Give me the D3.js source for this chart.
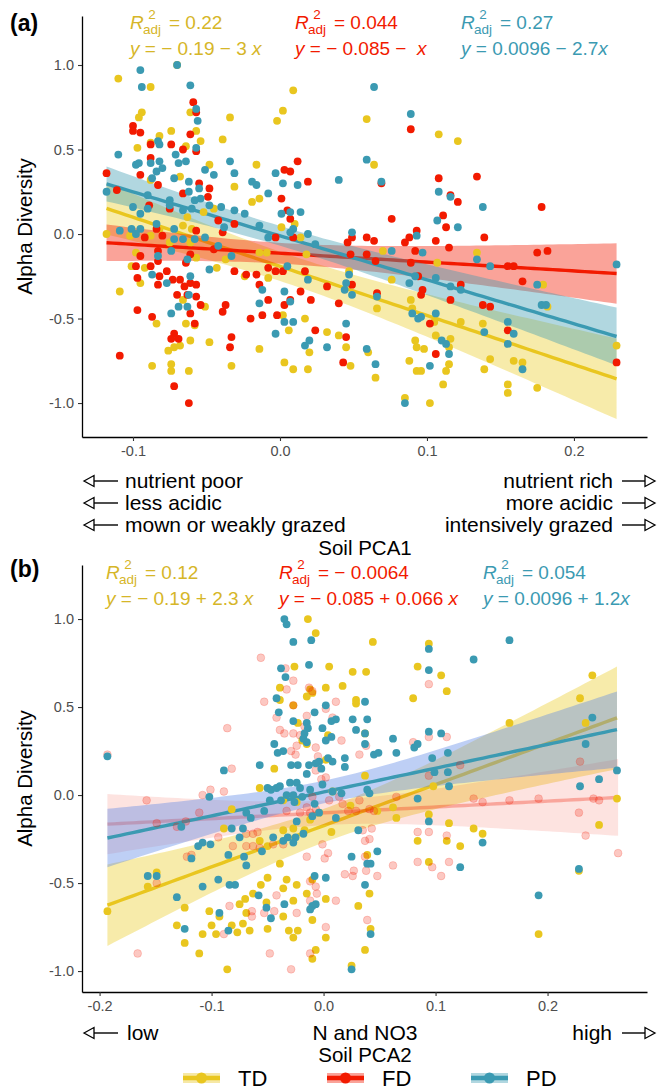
<!DOCTYPE html>
<html>
<head>
<meta charset="utf-8">
<script src="https://cdn.jsdelivr.net/npm/d3@7"></script>
<style>
body { margin: 0; background: #fff; }
svg { display: block; }
text { font-family: "Liberation Sans", Arial, sans-serif; }
</style>
</head>
<body>
<div id="chart"></div>
<script>
// groups and colours
var groups = ["TD", "FD", "PD"];
var pointColors = ["#E9C61F", "#F21A00", "#3B9AB2"];
var textColors = ["#D6B628", "#F21A00", "#3B9AB2"];

// panel (a): soil PCA1 vs alpha diversity, [x, y]
var aTD = [[-0.110,0.92],[-0.088,0.87],[-0.070,1.00],[-0.094,0.72],[-0.096,0.69],[-0.061,0.72],[-0.057,0.61],[-0.054,0.55],[-0.034,0.69],[-0.039,0.56],[-0.074,0.61],[-0.082,0.58],[-0.088,0.54],[-0.097,0.51],[-0.064,0.52],[-0.068,0.34],[-0.088,0.32],[-0.031,0.28],[-0.048,0.41],[-0.016,0.41],[-0.019,0.19],[-0.014,0.21],[-0.052,0.13],[-0.045,0.15],[-0.063,0.10],[-0.066,0.05],[-0.060,0.03],[-0.082,0.03],[-0.118,0.00],[-0.102,-0.01],[-0.088,-0.01],[-0.075,-0.05],[-0.057,-0.14],[-0.098,-0.11],[-0.101,-0.19],[-0.095,-0.29],[-0.109,-0.34],[-0.092,-0.20],[-0.043,-0.20],[-0.037,-0.15],[-0.024,-0.25],[-0.008,-0.26],[-0.009,-0.11],[0.001,0.04],[0.009,0.85],[0.002,0.73],[-0.002,0.67],[0.014,-0.02],[0.018,-0.12],[0.002,-0.48],[0.006,-0.57],[0.017,-0.50],[0.032,-0.58],[0.040,-0.60],[0.045,-0.67],[0.020,-0.70],[0.009,-0.80],[0.019,-0.80],[0.003,-0.76],[-0.014,-0.68],[-0.033,-0.78],[-0.048,-0.64],[-0.061,-0.63],[-0.062,-0.81],[-0.074,-0.81],[-0.074,-0.77],[-0.087,-0.78],[-0.076,-0.69],[-0.072,-0.67],[-0.068,-0.66],[-0.064,-0.53],[-0.058,-0.54],[-0.084,-0.53],[-0.051,-0.43],[-0.066,-0.39],[-0.061,-0.05],[-0.014,-0.11],[0.010,0.06],[0.059,0.68],[0.048,-0.78],[0.047,-0.22],
  [0.064,0.41],[0.108,0.59],[0.121,0.55],[0.070,-0.10],[0.076,-0.27],[0.066,-0.44],[0.089,-0.39],[0.090,-0.44],[0.107,-0.17],[0.134,-0.11],[0.123,-0.52],[0.138,-0.53],[0.105,-0.52],[0.106,-0.60],[0.092,-0.63],[0.093,-0.67],[0.098,-0.68],[0.116,-0.62],[0.115,-0.67],[0.088,-0.75],[0.093,-0.81],[0.096,-0.81],[0.113,-0.81],[0.115,-0.77],[0.111,-0.89],[0.085,-0.97],[0.102,-1.00],[0.060,-0.70],[0.065,-0.85],[0.139,-0.80],[0.143,-0.74],[0.159,-0.75],[0.165,-0.76],[0.155,-0.89],[0.155,-0.94],[0.175,-0.91],[0.179,-0.30],[0.182,-0.43],[0.229,-0.66]];
var aFD = [[-0.100,0.64],[-0.100,0.61],[-0.095,0.60],[-0.088,0.53],[-0.074,0.53],[-0.066,0.50],[-0.061,0.59],[-0.059,0.78],[-0.057,0.72],[-0.057,0.49],[-0.088,0.45],[-0.118,0.36],[-0.111,0.26],[-0.095,0.35],[-0.083,0.29],[-0.089,0.17],[-0.075,0.15],[-0.066,0.24],[-0.055,0.30],[-0.048,0.27],[-0.049,0.22],[-0.042,0.08],[-0.031,0.06],[-0.039,0.01],[-0.057,0.02],[-0.084,0.03],[-0.092,-0.02],[-0.080,-0.01],[-0.109,-0.72],[-0.097,-0.45],[-0.087,-0.49],[-0.072,-0.59],[-0.074,-0.62],[-0.069,-0.62],[-0.072,-0.90],[-0.062,-1.00],[-0.058,-0.53],[-0.061,-0.47],[-0.054,-0.42],[-0.057,-0.37],[-0.063,-0.36],[-0.070,-0.36],[-0.065,-0.31],[-0.061,-0.29],[-0.057,-0.30],[-0.068,-0.27],[-0.073,-0.27],[-0.077,-0.22],[-0.082,-0.25],[-0.083,-0.30],[-0.088,-0.19],[-0.095,-0.13],[-0.098,-0.19],[-0.097,-0.26],[-0.083,-0.16],[-0.083,-0.10],[-0.061,-0.12],[-0.064,-0.17],[-0.045,-0.09],[-0.033,-0.61],[-0.034,-0.67],[-0.039,-0.46],[-0.037,-0.42],[-0.020,-0.50],[-0.012,-0.48],[-0.014,-0.30],[-0.008,-0.39],[-0.023,-0.24],[-0.016,-0.24],[-0.031,-0.22],[-0.008,-0.20],[-0.003,-0.22],[0.002,-0.22],[-0.003,-0.02],[0.009,-0.02],[0.007,0.09],[0.005,0.14],[0.001,0.21],[0.003,0.38],[0.007,0.37],[0.012,0.43],[0.019,0.31],[0.017,-0.22],[0.021,-0.39],[0.024,-0.57],[0.014,-0.34],[0.003,-0.42],[0.007,-0.39],[-0.002,-0.48],[0.032,-0.31],[0.040,-0.41],[0.043,-0.76],[0.045,-0.61],[0.049,-0.30],[0.046,-0.05],[0.049,-0.02],[0.059,-0.02],[0.059,-0.12],[0.048,-0.12],
  [0.089,0.62],[0.069,0.30],[0.108,0.33],[0.116,0.23],[0.121,0.19],[0.134,0.34],[0.111,0.11],[0.113,0.04],[0.076,0.09],[0.064,-0.04],[0.085,-0.05],[0.088,-0.02],[0.093,0.02],[0.106,-0.04],[0.115,-0.08],[0.092,-0.10],[0.089,-0.17],[0.065,-0.16],[0.097,-0.33],[0.096,-0.36],[0.094,-0.25],[0.116,-0.39],[0.123,-0.30],[0.139,-0.02],[0.138,-0.42],[0.143,-0.43],[0.155,-0.19],[0.159,-0.19],[0.165,-0.28],[0.175,-0.11],[0.182,-0.10],[0.178,0.16],[0.066,-0.35],[0.102,-0.53],[0.106,-0.71],[0.155,-0.57],[0.229,-0.76]];
var aPD = [[-0.095,0.97],[-0.094,0.87],[-0.070,1.00],[-0.061,0.88],[-0.057,0.74],[-0.056,0.67],[-0.057,0.51],[-0.083,0.55],[-0.082,0.53],[-0.071,0.47],[-0.069,0.42],[-0.064,0.43],[-0.110,0.47],[-0.098,0.41],[-0.096,0.42],[-0.088,0.42],[-0.082,0.43],[-0.080,0.39],[-0.084,0.37],[-0.087,0.33],[-0.072,0.33],[-0.062,0.31],[-0.062,0.25],[-0.055,0.27],[-0.051,0.38],[-0.045,0.35],[-0.034,0.43],[-0.031,0.36],[-0.019,0.31],[-0.016,0.29],[-0.003,0.36],[0.002,0.30],[0.012,0.29],[-0.008,0.24],[0.001,0.12],[0.007,0.13],[0.014,0.13],[0.009,0.03],[0.007,0.01],[0.019,0.00],[0.024,-0.06],[0.040,0.32],[0.059,0.44],[0.049,0.01],[0.047,-0.24],[0.045,-0.29],[0.044,-0.33],[0.049,-0.36],[0.045,-0.53],[0.059,-0.68],[0.032,-0.67],[0.020,-0.63],[0.017,-0.66],[0.009,-0.52],[0.003,-0.52],[-0.003,-0.59],[0.003,-0.34],[0.005,-0.19],[0.007,-0.40],[0.019,-0.27],[-0.012,-0.33],[-0.014,-0.41],[-0.033,-0.13],[-0.042,-0.07],[-0.038,0.04],[-0.031,0.14],[-0.024,0.12],[-0.014,0.05],[-0.008,-0.02],[-0.040,0.16],[-0.048,0.17],[-0.054,0.21],[-0.058,0.20],[-0.060,0.15],[-0.066,0.14],[-0.075,0.20],[-0.075,0.17],[-0.090,0.15],[-0.090,0.23],[-0.095,0.12],[-0.100,0.16],[-0.118,0.25],[-0.109,0.02],[-0.101,0.03],[-0.095,0.03],[-0.098,0.00],[-0.084,0.06],[-0.072,0.03],[-0.072,-0.03],[-0.066,-0.03],[-0.058,-0.03],[-0.051,-0.02],[-0.048,-0.21],[-0.063,-0.15],[-0.061,-0.25],[-0.074,-0.10],[-0.083,-0.13],[-0.087,-0.24],[-0.077,-0.29],[-0.074,-0.47],[-0.069,-0.43],[-0.063,-0.43],[-0.062,-0.36],
  [0.064,0.87],[0.089,0.71],[0.069,0.31],[0.108,0.25],[0.116,0.22],[0.107,0.08],[0.121,0.04],[0.093,-0.01],[0.076,-0.10],[0.097,-0.11],[0.106,-0.26],[0.088,-0.29],[0.092,-0.25],[0.116,-0.31],[0.123,-0.33],[0.066,-0.37],[0.090,-0.47],[0.094,-0.50],[0.096,-0.49],[0.106,-0.47],[0.110,-0.63],[0.113,-0.65],[0.115,-0.71],[0.102,-0.78],[0.065,-0.77],[0.085,-1.00],[0.134,-0.15],[0.143,-0.19],[0.139,-0.58],[0.155,-0.52],[0.159,-0.59],[0.155,-0.65],[0.165,-0.80],[0.175,-0.30],[0.178,-0.42],[0.181,-0.42],[0.229,-0.18],[0.138,0.16]];

// panel (b): soil PCA2 vs alpha diversity, [x, y]
var bTD = [[-0.014,1.00],[-0.007,0.92],[-0.026,0.73],[0.005,0.73],[0.026,0.70],[0.038,0.70],[0.017,0.62],[0.002,0.61],[-0.012,0.60],[-0.010,0.58],[-0.015,0.56],[-0.027,0.51],[-0.039,0.61],[-0.039,0.54],[0.029,0.54],[0.029,0.52],[-0.023,0.41],[-0.019,0.31],[-0.015,0.29],[0.004,0.34],[0.037,0.35],[0.002,0.20],[-0.044,0.15],[-0.057,0.04],[-0.036,-0.03],[-0.024,-0.04],[-0.082,-0.08],[-0.089,-0.19],[-0.057,-0.26],[-0.050,-0.29],[-0.036,-0.20],[-0.027,-0.19],[-0.017,-0.20],[-0.012,-0.14],[-0.004,-0.10],[0.008,0.02],[0.024,-0.06],[0.037,0.11],[0.007,-0.21],[-0.039,-0.39],[-0.050,-0.47],[-0.056,-0.51],[-0.036,-0.53],[-0.033,-0.48],[-0.024,-0.51],[-0.010,-0.48],[-0.015,-0.56],[0.002,-0.59],[-0.027,-0.60],[-0.036,-0.69],[-0.023,-0.77],[-0.031,-0.77],[-0.050,-0.76],[-0.063,-0.56],[-0.070,-0.59],[-0.075,-0.62],[-0.069,-0.67],[-0.051,-0.61],[-0.066,-0.77],[-0.072,-0.73],[-0.077,-0.78],[-0.082,-0.74],[-0.093,-0.69],[-0.102,-0.66],[-0.100,-0.74],[-0.108,-0.79],[-0.096,-0.79],[-0.131,-0.74],[-0.124,-0.84],[-0.111,-0.90],[-0.086,-0.99],[-0.157,-0.52],[-0.149,-0.44],[-0.193,-0.66],[-0.124,-0.64],[-0.027,-0.81],[-0.010,-0.93],[-0.007,-0.88],[0.002,-0.81],[0.025,-0.97],[0.037,-0.88],[0.031,-0.63],[-0.010,-0.71],
  [0.044,0.87],[0.094,0.86],[0.084,0.73],[0.105,0.68],[0.110,0.59],[0.080,0.55],[0.240,0.68],[0.229,0.55],[0.234,0.41],[0.166,0.41],[0.098,0.05],[0.062,-0.07],[0.065,-0.13],[0.048,-0.09],[0.094,-0.11],[0.112,-0.16],[0.084,-0.26],[0.110,-0.26],[0.134,-0.19],[0.142,-0.22],[0.122,-0.29],[0.094,-0.38],[0.039,-0.34],[0.041,-0.56],[0.042,-0.76],[0.192,-0.79],[0.262,-0.02],[0.246,-0.17],[0.228,-0.43]];
var bFD = [[-0.193,0.23],[-0.056,0.78],[-0.034,0.72],[-0.027,0.65],[-0.033,0.60],[-0.013,0.61],[-0.010,0.59],[-0.053,0.53],[-0.027,0.51],[-0.042,0.44],[-0.039,0.37],[-0.035,0.35],[-0.027,0.35],[-0.015,0.45],[-0.017,0.39],[-0.021,0.34],[-0.024,0.28],[-0.029,0.25],[-0.025,0.23],[-0.007,0.27],[-0.005,0.22],[0.016,0.31],[0.011,0.53],[0.002,0.49],[0.008,0.44],[-0.086,0.38],[-0.082,0.15],[-0.089,0.02],[-0.101,0.03],[-0.108,0.00],[-0.123,-0.15],[-0.131,-0.18],[-0.149,-0.16],[-0.158,-0.03],[-0.111,-0.10],[-0.118,-0.34],[-0.094,-0.24],[-0.081,-0.29],[-0.069,-0.29],[-0.063,-0.29],[-0.057,-0.30],[-0.069,-0.22],[-0.063,-0.22],[-0.059,-0.21],[-0.045,-0.28],[-0.036,-0.28],[-0.021,-0.10],[-0.033,-0.09],[-0.015,-0.07],[-0.012,-0.10],[-0.010,-0.01],[-0.007,0.14],[-0.002,0.09],[0.002,0.10],[-0.007,-0.08],[0.005,-0.03],[0.017,-0.05],[0.022,-0.09],[0.014,-0.01],[0.029,-0.09],[0.032,-0.03],[0.035,-0.20],[0.041,-0.25],[0.037,-0.35],[0.038,-0.43],[0.027,-0.43],[0.019,-0.45],[-0.012,-0.49],[-0.007,-0.52],[-0.006,-0.56],[-0.015,-0.35],[-0.001,-0.28],[0.001,-0.36],[0.004,-0.33],[0.011,-0.60],[0.002,-0.75],[0.026,-0.46],[-0.012,-0.60],[-0.042,-0.57],[-0.044,-0.66],[-0.053,-0.67],[-0.064,-0.66],[-0.084,-0.63],[-0.122,-0.35],[-0.149,-0.50],[-0.166,-0.90],[-0.048,-0.90],[-0.029,-0.99],[-0.064,-0.69],[-0.089,-0.79],[-0.024,-0.67],[-0.012,-0.90],
  [0.094,0.63],[0.080,0.30],[0.094,0.33],[0.110,0.33],[0.094,0.11],[0.122,0.17],[0.032,0.23],[0.038,0.28],[0.065,-0.01],[0.041,-0.08],[0.045,-0.09],[0.043,-0.19],[0.037,-0.26],[0.134,-0.02],[0.142,-0.04],[0.166,-0.03],[0.192,-0.02],[0.229,0.19],[0.241,-0.02],[0.246,-0.03],[0.228,-0.10],[0.234,-0.23],[0.263,-0.33],[0.084,-0.21],[0.094,-0.21],[0.110,-0.23],[0.084,-0.38],[0.097,-0.41],[0.112,-0.38],[0.105,-0.46],[0.062,-0.40],[0.048,-0.46],[0.039,-0.71]];
var bPD = [[-0.193,0.22],[-0.035,1.00],[-0.033,0.97],[-0.027,0.87],[-0.011,0.88],[-0.013,0.74],[-0.038,0.72],[-0.034,0.67],[-0.042,0.55],[-0.040,0.47],[-0.027,0.42],[-0.008,0.47],[0.002,0.51],[0.007,0.42],[0.011,0.43],[0.037,0.53],[0.026,0.43],[0.039,0.43],[0.029,0.37],[0.037,0.29],[-0.001,0.38],[-0.015,0.41],[-0.014,0.38],[-0.017,0.35],[-0.018,0.32],[-0.015,0.30],[0.007,0.33],[0.002,0.31],[-0.044,0.29],[-0.036,0.25],[-0.041,0.24],[-0.057,0.17],[-0.029,0.17],[-0.023,0.17],[-0.013,0.17],[-0.015,0.12],[-0.007,0.18],[-0.004,0.19],[0.004,0.21],[0.008,0.19],[0.019,0.21],[0.019,0.16],[-0.002,0.15],[-0.089,0.14],[-0.050,0.04],[-0.047,0.03],[-0.042,0.04],[-0.039,0.05],[-0.030,0.07],[-0.024,0.07],[-0.021,0.04],[-0.033,0.00],[-0.027,0.00],[-0.038,-0.03],[-0.048,-0.03],[-0.053,-0.09],[-0.069,-0.10],[-0.065,-0.13],[-0.102,-0.01],[-0.127,-0.18],[-0.108,-0.27],[-0.112,-0.29],[-0.101,-0.28],[-0.082,-0.19],[-0.072,-0.19],[-0.075,-0.24],[-0.071,-0.35],[-0.069,-0.40],[-0.085,-0.34],[-0.055,-0.32],[-0.045,-0.24],[-0.032,-0.24],[-0.025,-0.24],[-0.027,-0.27],[-0.036,-0.26],[-0.018,-0.22],[-0.010,-0.12],[-0.024,-0.15],[-0.008,-0.05],[-0.004,-0.10],[-0.001,0.06],[0.011,-0.13],[0.008,0.02],[0.016,0.01],[0.025,-0.35],[0.031,-0.20],[0.039,0.03],[0.039,-0.39],[0.037,-0.51],[0.002,-0.47],[-0.008,-0.46],[-0.012,-0.65],[-0.010,-0.63],[-0.007,-0.62],[-0.035,-0.62],[-0.047,-0.70],[-0.051,-0.64],[-0.058,-0.57],[-0.093,-0.67],[-0.085,-0.77],[-0.079,-0.51],[-0.084,-0.51],[-0.094,-0.48],[-0.108,-0.52],[-0.118,-0.36],[-0.131,-0.58],[-0.149,-0.46],[-0.157,-0.46],[-0.124,-0.76],[0.025,-0.99],[-0.026,-0.04],[-0.019,-0.01],[-0.012,0.03],
  [0.166,0.88],[0.134,0.77],[0.094,0.83],[0.094,0.71],[0.037,0.35],[0.045,0.23],[0.049,0.24],[0.065,0.24],[0.062,0.32],[0.081,0.27],[0.084,0.29],[0.094,0.36],[0.105,0.35],[0.097,0.21],[0.099,0.13],[0.111,0.24],[0.111,0.13],[0.112,0.05],[0.084,-0.02],[0.094,-0.15],[0.041,0.01],[0.240,0.44],[0.234,0.29],[0.229,0.05],[0.246,0.09],[0.262,0.14],[0.142,-0.27],[0.122,-0.41],[0.048,-0.32],[0.042,-0.39],[0.042,-0.79],[0.192,-0.57],[0.228,-0.42]];

// annotation labels (as printed on the chart)
var r2A = ["0.22", "0.044", "0.27"];
var eqA = [[" = \u2212 0.19 \u2212 3 ", "x"], [" = \u2212 0.085 \u2212  ", "x"], [" = 0.0096 \u2212 2.7", "x"]];
var r2B = ["0.12", "\u2212 0.0064", "0.054"];
var eqB = [[" = \u2212 0.19 + 2.3 ", "x"], [" = \u2212 0.085 + 0.066 ", "x"], [" = 0.0096 + 1.2", "x"]];

// tick values
var yTicks = [-1.0, -0.5, 0.0, 0.5, 1.0];
var xTicksA = [-0.1, 0.0, 0.1, 0.2];
var xTicksB = [-0.2, -0.1, 0.0, 0.1, 0.2];

//svg
var svg = d3.select("#chart").append("svg")
    .attr("width", 662)
    .attr("height", 1092);

// least squares fit with 95% confidence band
function fitLine(pts) {
    var n = pts.length;
    var mx = d3.mean(pts, d => d[0]), my = d3.mean(pts, d => d[1]);
    var sxx = d3.sum(pts, d => (d[0] - mx) * (d[0] - mx));
    var sxy = d3.sum(pts, d => (d[0] - mx) * (d[1] - my));
    var b = sxy / sxx, a = my - b * mx;
    var s = Math.sqrt(d3.sum(pts, d => Math.pow(d[1] - a - b * d[0], 2)) / (n - 2));
    var ext = d3.extent(pts, d => d[0]);
    return d3.range(0, 81).map(function(i) {
        var x = ext[0] + (ext[1] - ext[0]) * i / 80;
        var se = s * Math.sqrt(1 / n + (x - mx) * (x - mx) / sxx);
        return {x: x, y: a + b * x, lo: a + b * x - 1.98 * se, hi: a + b * x + 1.98 * se};
    });
}

function drawPanel(p) {
    var g = svg.append("g");
    var x = d3.scaleLinear().domain(p.xDomain).range([82, 647]);
    var y = d3.scaleLinear().domain(p.yDomain).range([p.bottom, p.top]);

    // bands and lines, group by group
    var area = d3.area().x(d => x(d.x)).y0(d => y(d.lo)).y1(d => y(d.hi));
    var line = d3.line().x(d => x(d.x)).y(d => y(d.y));
    p.data.forEach(function(pts, i) {
        var f = fitLine(pts);
        g.append("path").attr("d", area(f))
            .attr("fill", p.bandColors[i]).attr("fill-opacity", p.bandAlpha[i]);
        g.append("path").attr("d", line(f))
            .attr("fill", "none").attr("stroke", pointColors[i])
            .attr("stroke-opacity", p.lineAlpha[i]).attr("stroke-width", 3.4);
    });

    // points
    p.data.forEach(function(pts, i) {
        g.append("g").selectAll("circle")
            .data(pts)
            .enter()
            .append("circle")
            .attr("cx", d => x(d[0]))
            .attr("cy", d => y(d[1]))
            .attr("r", 3.9)
            .attr("fill", pointColors[i])
            .attr("fill-opacity", p.pointAlpha[i])
            .attr("stroke", p.pointAlpha[i] < 1 ? pointColors[i] : "none")
            .attr("stroke-opacity", 0.22)
            .attr("stroke-width", 0.8);
    });

    // axes
    var fmt = d => d.toFixed(1);
    var xa = g.append("g").attr("transform", `translate(0,${p.bottom})`)
        .call(d3.axisBottom(x).tickValues(p.xTicks).tickFormat(fmt).tickSize(4).tickSizeOuter(0).tickPadding(5));
    var ya = g.append("g").attr("transform", "translate(82,0)")
        .call(d3.axisLeft(y).tickValues(yTicks).tickFormat(fmt).tickSize(4).tickSizeOuter(0).tickPadding(4));
    [xa, ya].forEach(function(ax) {
        ax.select(".domain").attr("stroke", "#000").attr("stroke-width", 1.3);
        ax.selectAll(".tick line").attr("stroke", "#333").attr("stroke-width", 1.1);
        ax.selectAll(".tick text").attr("fill", "#4D4D4D")
            .style("font-size", "14.5px").style("font-family", "Liberation Sans, Arial, sans-serif");
    });

    // y title
    g.append("text")
        .attr("transform", `translate(32,${(p.top + p.bottom) / 2}) rotate(-90)`)
        .attr("text-anchor", "middle")
        .style("font-size", "20.5px")
        .text("Alpha Diversity");

    // panel tag
    g.append("text").attr("x", 10).attr("y", p.tagY)
        .style("font-size", "23px").style("font-weight", "bold")
        .text(p.tag);

    // R2 and equation labels
    p.labelX.forEach(function(x0, i) {
        var col = textColors[i];
        var t = g.append("g").attr("fill", col).style("font-size", "19px");
        t.append("text").attr("x", x0).attr("y", p.labelY).style("font-style", "italic").text("R");
        t.append("text").attr("x", x0 + 22).attr("y", p.labelY - 10).attr("text-anchor", "middle")
            .style("font-size", "13.5px").text("2");
        t.append("text").attr("x", x0 + 22).attr("y", p.labelY + 5).attr("text-anchor", "middle")
            .style("font-size", "13.5px").text("adj");
        t.append("text").attr("x", x0 + 39).attr("y", p.labelY).text("= " + p.r2[i]);
        var eq = t.append("text").attr("x", x0).attr("y", p.labelY + 26).style("white-space", "pre");
        eq.append("tspan").style("font-style", "italic").text("y");
        eq.append("tspan").text(p.eq[i][0]);
        eq.append("tspan").style("font-style", "italic").text(p.eq[i][1]);
    });
    return g;
}

// arrows drawn next to the axis notes
function arrow(x1, x2, yy) {
    var dir = x2 > x1 ? 1 : -1;
    svg.append("line").attr("x1", x1).attr("x2", x2 - dir * 9).attr("y1", yy).attr("y2", yy)
        .attr("stroke", "#000").attr("stroke-width", 1.4);
    svg.append("path")
        .attr("d", `M${x2},${yy} L${x2 - dir * 10},${yy - 5.5} L${x2 - dir * 10},${yy + 5.5} Z`)
        .attr("fill", "#fff").attr("stroke", "#000").attr("stroke-width", 1.3);
}

function note(txt, xx, yy, anchor, size) {
    svg.append("text").attr("x", xx).attr("y", yy).attr("text-anchor", anchor)
        .style("font-size", size).text(txt);
}

drawPanel({
    tag: "(a)", tagY: 31,
    xDomain: [-0.1347, 0.2497], yDomain: [-1.201, 1.290], top: 16, bottom: 437,
    xTicks: xTicksA, data: [aTD, aFD, aPD],
    bandColors: ["#EBCC2A", "#F21A00", "#3B9AB2"], bandAlpha: [0.4, 0.4, 0.4],
    lineAlpha: [1, 1, 1], pointAlpha: [1, 1, 1],
    labelX: [130, 295, 461], labelY: 29, r2: r2A, eq: eqA
});

drawPanel({
    tag: "(b)", tagY: 577,
    xDomain: [-0.2157, 0.2888], yDomain: [-1.119, 1.307], top: 565, bottom: 992,
    xTicks: xTicksB, data: [bTD, bFD, bPD],
    bandColors: ["#EBCC2A", "#F21A00", "#5D87E6"], bandAlpha: [0.4, 0.12, 0.4],
    lineAlpha: [1, 0.3, 1], pointAlpha: [1, 0.24, 1],
    labelX: [106, 279, 483], labelY: 579, r2: r2B, eq: eqB
});

// axis notes panel a
var rowsLeftA = ["nutrient poor", "less acidic", "mown or weakly grazed"];
var rowsRightA = ["nutrient rich", "more acidic", "intensively grazed"];
rowsLeftA.forEach(function(t, i) {
    var yy = 488 + i * 22;
    note(t, 125, yy, "start", "21px");
    arrow(118, 84, yy - 7);
    note(rowsRightA[i], 613, yy, "end", "21px");
    arrow(622, 655, yy - 7);
});
note("Soil PCA1", 365, 555, "middle", "20.5px");

// axis notes panel b
note("low", 127, 1040, "start", "21px");
arrow(118, 84, 1033);
note("N and NO3", 365, 1040, "middle", "21px");
note("high", 612, 1040, "end", "21px");
arrow(622, 655, 1033);
note("Soil PCA2", 365, 1062, "middle", "20.5px");

// legend
var legendX = [183, 327, 471];
groups.forEach(function(gname, i) {
    var lx = legendX[i];
    svg.append("rect").attr("x", lx).attr("y", 1073).attr("width", 37).attr("height", 10)
        .attr("fill", pointColors[i]).attr("fill-opacity", 0.4);
    svg.append("line").attr("x1", lx).attr("x2", lx + 37).attr("y1", 1078).attr("y2", 1078)
        .attr("stroke", pointColors[i]).attr("stroke-width", 4.5);
    svg.append("circle").attr("cx", lx + 18.5).attr("cy", 1078).attr("r", 5.5).attr("fill", pointColors[i]);
    note(gname, lx + 55, 1086, "start", "22px");
});
</script>
</body>
</html>
